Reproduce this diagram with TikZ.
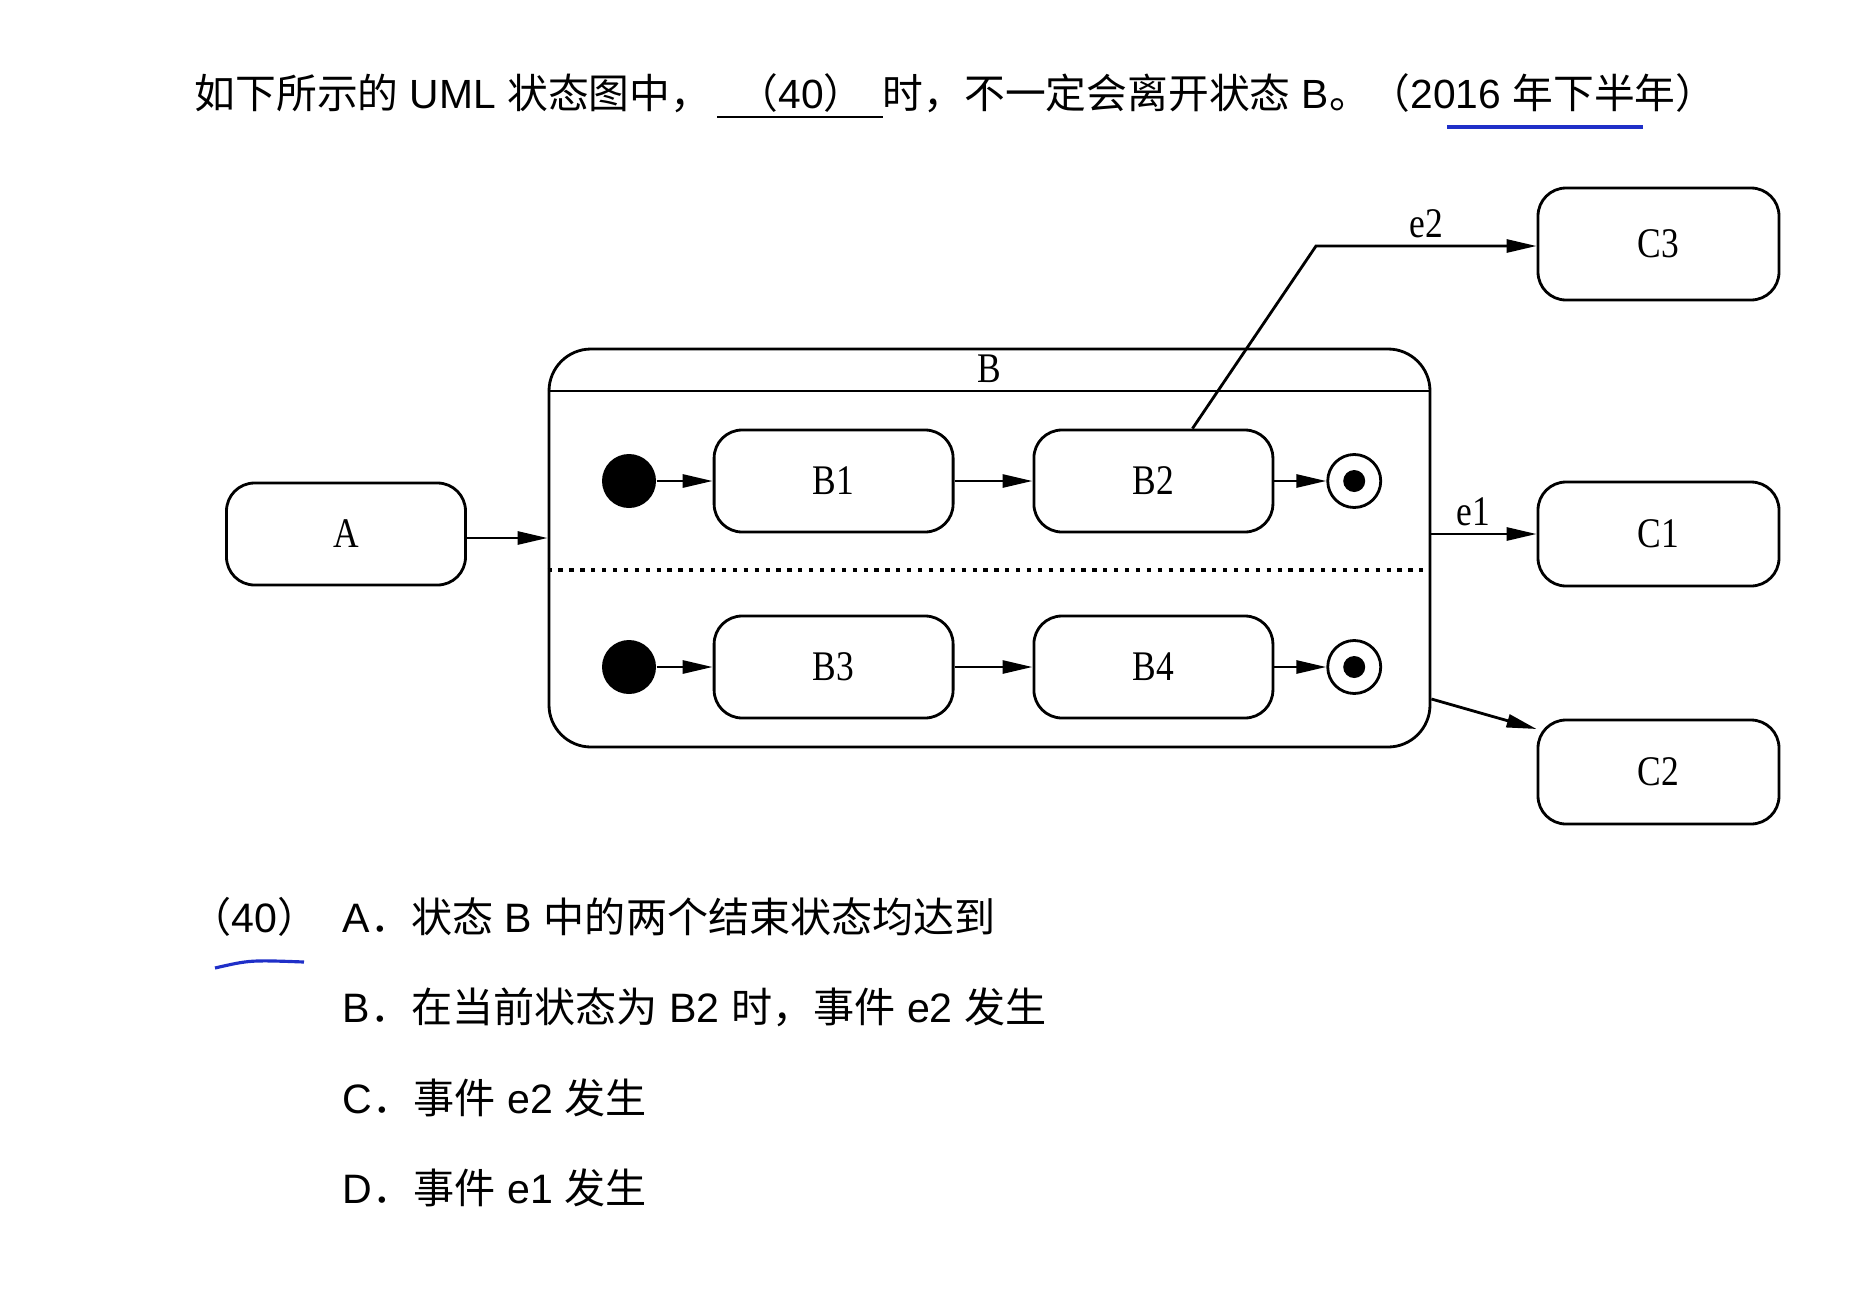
\documentclass[tikz,border=0pt]{standalone}
\usepackage{fontspec}
\setmainfont{Liberation Sans}
\newfontfamily\zhfont{Noto Sans CJK SC}
\newfontfamily\umlfont[FakeStretch=0.84]{Liberation Serif}
\usetikzlibrary{positioning,arrows.meta}
\definecolor{pen}{HTML}{1F2FC8}

\begin{document}
\begin{tikzpicture}[
  st/.style={draw, line width=0.8pt, rounded corners=0.28cm, minimum width=2.39cm, minimum height=1.02cm, font=\umlfont\fontsize{12}{14}\selectfont},
  lbl/.style={font=\umlfont\fontsize{12}{14}\selectfont},
  ini/.style={circle, fill, minimum size=0.54cm, inner sep=0pt},
  fin/.style={circle, draw, line width=0.8pt, minimum size=0.53cm, inner sep=0pt,
    path picture={\fill (path picture bounding box.center) circle (0.11cm);}},
  arr/.style={-{Triangle[length=0.3cm,width=0.13cm]}, line width=0.8pt},
  txt/.style={anchor=base west, inner sep=0pt, font=\fontsize{11.6}{14}\selectfont},
  opt/.style={txt, font=\fontsize{11.7}{14}\selectfont},
  node distance=0.56cm]
\useasboundingbox (0,0) rectangle (18.67,-12.93);
% question
\node[txt] (ask) at (1.94,-1.08) {{\zhfont 如下所示的} UML {\zhfont 状态图中，}\hspace{0.15em}\underline{\hspace{0.5em}{\zhfont （}40{\zhfont ）}\hspace{0.45em}}{\zhfont 时，不一定会离开状态} B{\zhfont 。（}2016 {\zhfont 年下半年）}};
\draw[pen, line width=0.9pt] (14.47,-1.27) -- (16.43,-1.27);
% composite state B
\node[st] (A) at (3.46,-5.34) {A};
\node[draw, line width=0.8pt, rounded corners=0.42cm, minimum width=8.81cm, minimum height=3.98cm] (B) at (9.895,-5.48) {};
\node[lbl] (Bname) at ([yshift=-0.21cm]B.north) {B};
\coordinate (hdr) at (0,-3.91);
\coordinate (sep) at (0,-5.70);
\draw[line width=0.8pt] (B.west |- hdr) -- (B.east |- hdr);
\draw[line width=1pt, dash pattern=on 1.2pt off 1.9pt] (B.west |- sep) -- ([xshift=-0.07cm]B.east |- sep);
\node[ini] (i1) at (6.29,-4.81) {};
\node[st, right=of i1] (B1) {B1};
\node[st, right=0.78cm of B1] (B2) {B2};
\node[fin, right=0.52cm of B2] (f1) {};
\node[ini] (i2) at (6.29,-6.67) {};
\node[st, right=of i2] (B3) {B3};
\node[st, right=0.78cm of B3] (B4) {B4};
\node[fin, right=0.52cm of B4] (f2) {};
% targets
\node[st, minimum width=2.41cm, minimum height=1.12cm] (C3) at (16.585,-2.44) {C3};
\node[st, minimum width=2.41cm, minimum height=1.04cm] (C1) at (16.585,-5.34) {C1};
\node[st, minimum width=2.41cm, minimum height=1.04cm] (C2) at (16.585,-7.72) {C2};
\coordinate (bend) at (13.16,-2.46);
\draw[arr] ([yshift=-0.04cm]A.east) -- ([yshift=-0.04cm]A.east -| B.west);
\draw[arr] (i1) -- (B1); \draw[arr] (B1) -- (B2); \draw[arr] (B2) -- (f1);
\draw[arr] (i2) -- (B3); \draw[arr] (B3) -- (B4); \draw[arr] (B4) -- (f2);
\draw[arr] ([xshift=0.39cm]B2.north) -- (bend) -- node[lbl, above, inner sep=2pt] {e2} (bend -| C3.west);
\draw[arr] (B.east |- C1.west) -- node[lbl, above, inner sep=2pt, pos=0.4] {e1} (C1.west);
\draw[arr] ([yshift=-1.51cm]B.east) -- ([yshift=0.43cm]C2.west);
% options
\node[opt] (q40) at (1.90,-9.32) {{\zhfont （}40{\zhfont ）}};
\node[opt] (optA) at (3.42,-9.32) {A{\zhfont ．状态} B {\zhfont 中的两个结束状态均达到}};
\node[opt] (optB) at (3.42,-10.22) {B{\zhfont ．在当前状态为} B2 {\zhfont 时，事件} e2 {\zhfont 发生}};
\node[opt] (optC) at (3.42,-11.13) {C{\zhfont ．事件} e2 {\zhfont 发生}};
\node[opt] (optD) at (3.42,-12.03) {D{\zhfont ．事件} e1 {\zhfont 发生}};
\draw[pen, line width=0.9pt] (2.15,-9.68) .. controls (2.5,-9.60) .. (3.04,-9.62);
\end{tikzpicture}
\end{document}
